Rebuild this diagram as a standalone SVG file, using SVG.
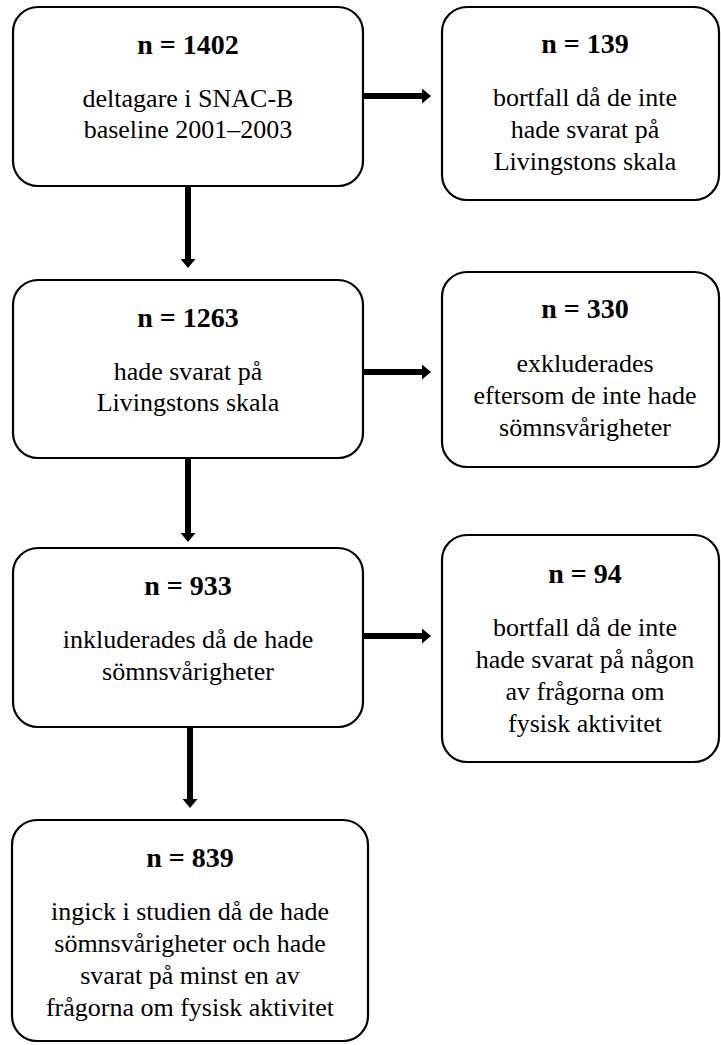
<svg xmlns="http://www.w3.org/2000/svg" width="721" height="1045" viewBox="0 0 721 1045">
<defs>
<style>
.box{fill:#fff;stroke:#000;stroke-width:2.2}
text{font-family:'Liberation Serif','Times New Roman','DejaVu Serif',serif;fill:#000;text-anchor:middle}
.t{font-size:28px;font-weight:bold}
.b{font-size:26px}
.c{stroke:#000;stroke-width:6;fill:none}
</style>
<marker id="ah" markerUnits="userSpaceOnUse" markerWidth="9" markerHeight="15" refX="0" refY="7.5" orient="auto" viewBox="0 0 9 15">
<path d="M0,0 L9,7.5 L0,15 z" fill="#000"/>
</marker>
</defs>
<rect width="721" height="1045" fill="#fff"/>
<g id="connectors">
<line class="c" x1="363" y1="96" x2="422" y2="96" marker-end="url(#ah)"/>
<line class="c" x1="363" y1="372" x2="422" y2="372" marker-end="url(#ah)"/>
<line class="c" x1="363" y1="636" x2="422" y2="636" marker-end="url(#ah)"/>
<line class="c" x1="188" y1="186" x2="188" y2="259" marker-end="url(#ah)"/>
<line class="c" x1="188" y1="458" x2="188" y2="533" marker-end="url(#ah)"/>
<line class="c" x1="190" y1="727" x2="190" y2="799" marker-end="url(#ah)"/>
</g>
<g id="n1402" font-family="Liberation Serif, serif">
<rect class="box" x="13" y="7" width="350" height="179" rx="25"/>
<text class="t" x="188" y="54">n = 1402</text>
<text class="b" x="188" y="107">deltagare i SNAC-B</text>
<text class="b" x="188" y="138">baseline 2001–2003</text>
</g>
<g id="n139" font-family="Liberation Serif, serif">
<rect class="box" x="442" y="7" width="277" height="193" rx="25"/>
<text class="t" x="585" y="53">n = 139</text>
<text class="b" x="585" y="106">bortfall då de inte</text>
<text class="b" x="585" y="138">hade svarat på</text>
<text class="b" x="585" y="170">Livingstons skala</text>
</g>
<g id="n1263" font-family="Liberation Serif, serif">
<rect class="box" x="13" y="280" width="350" height="178" rx="25"/>
<text class="t" x="188" y="327">n = 1263</text>
<text class="b" x="188" y="380">hade svarat på</text>
<text class="b" x="188" y="411">Livingstons skala</text>
</g>
<g id="n330" font-family="Liberation Serif, serif">
<rect class="box" x="442" y="272" width="277" height="195" rx="25"/>
<text class="t" x="585" y="318">n = 330</text>
<text class="b" x="585" y="372">exkluderades</text>
<text class="b" x="585" y="404">eftersom de inte hade</text>
<text class="b" x="585" y="436">sömnsvårigheter</text>
</g>
<g id="n933" font-family="Liberation Serif, serif">
<rect class="box" x="13" y="548" width="350" height="179" rx="25"/>
<text class="t" x="188" y="595">n = 933</text>
<text class="b" x="188" y="648">inkluderades då de hade</text>
<text class="b" x="188" y="680">sömnsvårigheter</text>
</g>
<g id="n94" font-family="Liberation Serif, serif">
<rect class="box" x="442" y="535" width="277" height="227" rx="25"/>
<text class="t" x="585" y="583">n = 94</text>
<text class="b" x="585" y="636">bortfall då de inte</text>
<text class="b" x="585" y="668">hade svarat på någon</text>
<text class="b" x="585" y="700">av frågorna om</text>
<text class="b" x="585" y="732">fysisk aktivitet</text>
</g>
<g id="n839" font-family="Liberation Serif, serif">
<rect class="box" x="12" y="820" width="356" height="221" rx="25"/>
<text class="t" x="190" y="867">n = 839</text>
<text class="b" x="190" y="920">ingick i studien då de hade</text>
<text class="b" x="190" y="952">sömnsvårigheter och hade</text>
<text class="b" x="190" y="984">svarat på minst en av</text>
<text class="b" x="190" y="1016">frågorna om fysisk aktivitet</text>
</g>
</svg>
